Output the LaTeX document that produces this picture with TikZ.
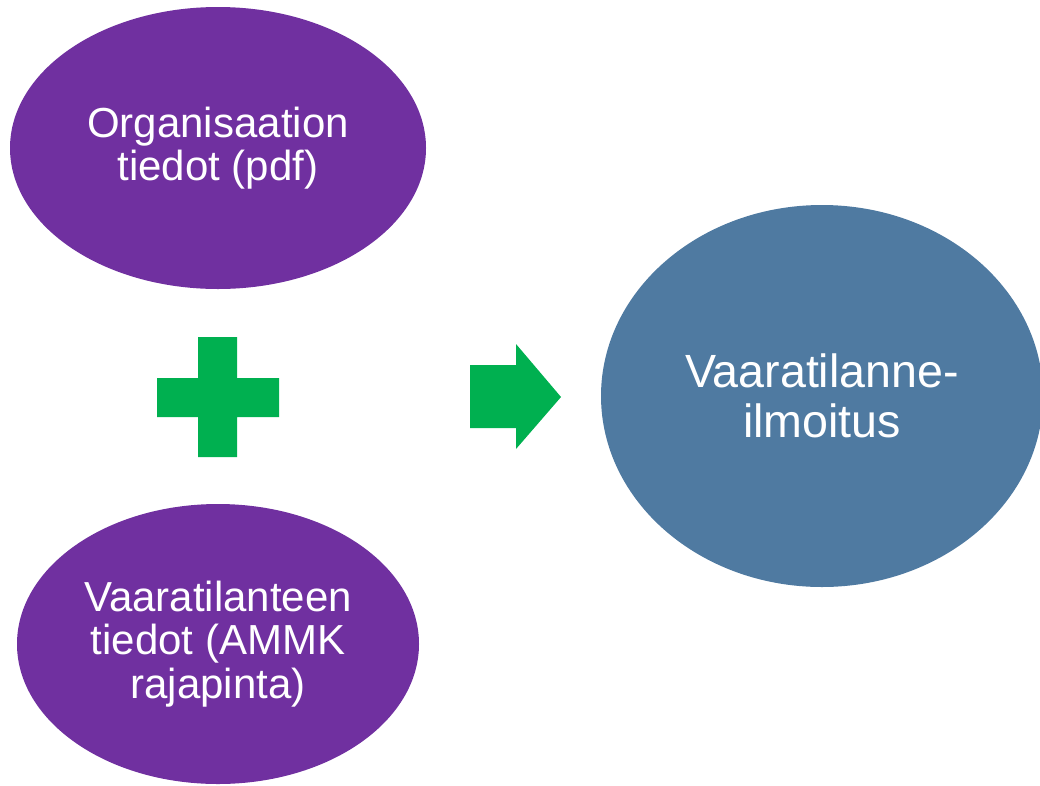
\documentclass[tikz,border=0pt]{standalone}
\usepackage{fontspec}
\setmainfont{Liberation Sans}
\usepackage{tikz}
\usetikzlibrary{shapes.geometric,positioning}

\definecolor{lila}{RGB}{112,48,160}
\definecolor{vihrea}{RGB}{0,176,80}
\definecolor{sininen}{RGB}{79,122,161}

\begin{document}
\begin{tikzpicture}[x=1pt,y=-1pt,on grid,node distance=496pt,
	tieto/.style={ellipse,fill=lila,text=white,inner sep=0pt,align=center,
		font=\fontsize{42}{43.5}\selectfont},
	tulos/.style={ellipse,fill=sininen,text=white,inner sep=0pt,align=center,
		minimum width=442pt,minimum height=382pt,
		font=\fontsize{46.6}{50}\selectfont}]
	\useasboundingbox (0,0) rectangle (1040,785);
	\node[tieto,minimum width=416pt,minimum height=282pt] (org) at (218,148) {Organisaation\\tiedot (pdf)};
	\node[tieto,minimum width=402pt,minimum height=280pt] (vaara) [below=of org] {Vaaratilanteen\\tiedot (AMMK\\rajapinta)};
	\node[tulos] (ilmoitus) at (822,396) {Vaaratilanne-\\ilmoitus};
	% plus
	\fill[vihrea] (198,337) -- (237,337) -- (237,378) -- (279,378) -- (279,417) -- (237,417)
		-- (237,457) -- (198,457) -- (198,417) -- (157,417) -- (157,378) -- (198,378) -- cycle;
	% nuoli
	\fill[vihrea] (470,365) -- (516,365) -- (516,344) -- (561,397) -- (516,449) -- (516,428)
		-- (470,428) -- cycle;
\end{tikzpicture}
\end{document}
